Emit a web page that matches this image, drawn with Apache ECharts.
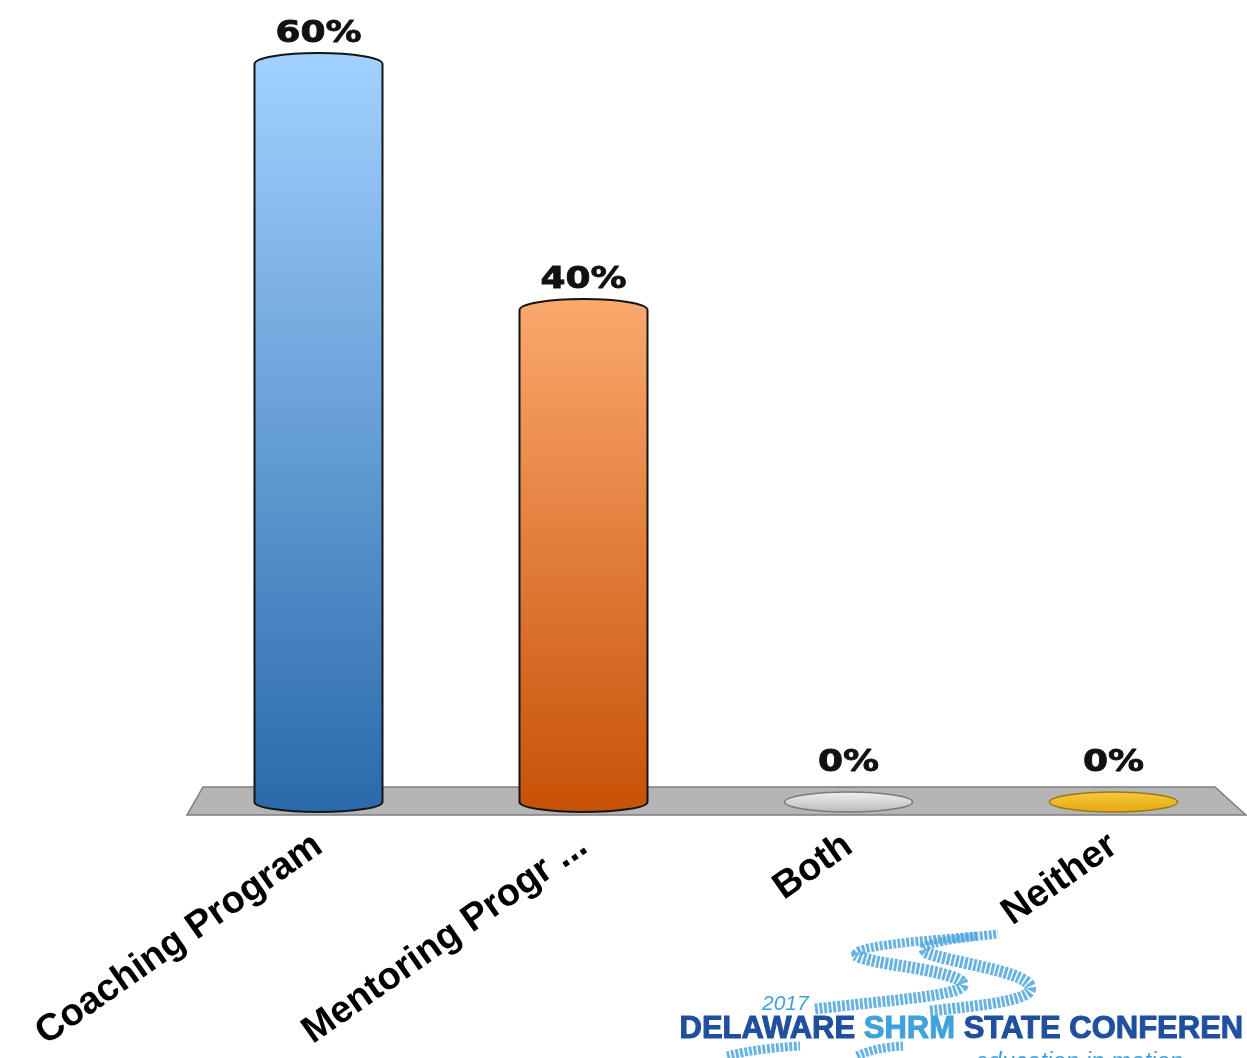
<!DOCTYPE html>
<html><head><meta charset="utf-8">
<script src="https://cdn.jsdelivr.net/npm/echarts@6/dist/echarts.min.js"></script>
<style>html,body{margin:0;padding:0;background:#fff;overflow:hidden}#c{width:1247px;height:1058px}</style>
</head><body><div id="c"></div>
<script>
// ---- data ----
const categories = ['Coaching Program', 'Mentoring Progr ...', 'Both', 'Neither'];
const values = [60, 40, 0, 0];
const valueLabels = ['60%', '40%', '0%', '0%'];

// ---- styles ----
const topColors = ['#a2d2ff', '#fba86e', '#f2f2f2', '#f6c93c'];
const bottomColors = ['#2a69ab', '#c75106', '#b8b8b8', '#e6a812'];
const edgeColors = ['#151515', '#151515', '#7a7a7a', '#9a7a10'];

const chart = echarts.init(document.getElementById('c'));

function ellipsePath(cx, cy, rx, ry) {
  return `M${cx - rx} ${cy} A${rx} ${ry} 0 1 0 ${cx + rx} ${cy} A${rx} ${ry} 0 1 0 ${cx - rx} ${cy} Z`;
}

function renderBar(params, api) {
  const i = api.value(0);
  const v = api.value(1);
  const base = api.coord([i, 0]);
  const top = api.coord([i, v]);
  const w = api.size([1, 0])[0] * 0.483;
  const cx = base[0], x0 = cx - w / 2, x1 = cx + w / 2, rx = w / 2;
  const ryB = 10, ryT = 11;
  const grad = {
    type: 'linear', x: 0, y: 0, x2: 0, y2: 1,
    colorStops: [{ offset: 0, color: topColors[i] }, { offset: 1, color: bottomColors[i] }]
  };
  const children = [];
  let labelY;
  if (v > 0) {
    const d = `M${x0} ${top[1]} L${x0} ${base[1]} A${rx} ${ryB} 0 0 0 ${x1} ${base[1]} L${x1} ${top[1]} A${rx} ${ryT} 0 0 0 ${x0} ${top[1]} Z`;
    children.push({ type: 'path', shape: { pathData: d }, style: { fill: grad, stroke: edgeColors[i], lineWidth: 2 } });
    labelY = top[1] - ryT - 4;
  } else {
    children.push({ type: 'path', shape: { pathData: ellipsePath(cx, base[1], rx, ryB) }, style: { fill: grad, stroke: edgeColors[i], lineWidth: 1.5 } });
    labelY = base[1] - ryB - 14;
  }
  children.push({
    type: 'text', x: cx, y: labelY, scaleX: 1.2,
    style: { text: valueLabels[i], x: 0, y: 0, align: 'center', verticalAlign: 'bottom',
      font: 'bold 30px "DejaVu Sans"', fill: '#111', stroke: '#111', lineWidth: 0.8 }
  });
  return { type: 'group', children };
}

function renderFloor(params, api) {
  const cs = params.coordSys;
  const y0 = api.coord([0, 0])[1];
  const L = cs.x, R = cs.x + cs.width;
  return {
    type: 'polygon',
    shape: { points: [[L + 17, y0 - 15], [R - 31, y0 - 15], [R, y0 + 13], [L + 1, y0 + 13]] },
    style: { fill: '#b5b5b5', stroke: '#7d7d7d', lineWidth: 1.5 }
  };
}

const logoBlue = '#1f4f9e';
const logoLight = '#3fa2dd';
function road(p, w) {
  return { type: 'bezierCurve',
    shape: { x1: p[0], y1: p[1], cpx1: p[2], cpy1: p[3], cpx2: p[4], cpy2: p[5], x2: p[6], y2: p[7] },
    style: { fill: null, stroke: '#4fa6de', lineWidth: w, lineDash: [3, 1.5], opacity: 0.85 } };
}

chart.setOption({
  animation: false,
  backgroundColor: '#ffffff',
  grid: { left: 186, right: 1, top: 64, bottom: 256 },
  xAxis: {
    type: 'category', data: categories, boundaryGap: true,
    axisLine: { show: false }, axisTick: { show: false },
    axisLabel: { interval: 0, rotate: 35, margin: 40, color: '#000',
      fontFamily: 'Liberation Sans', fontWeight: 'bold', fontSize: 38 }
  },
  yAxis: { type: 'value', min: 0, max: 60, show: false, splitLine: { show: false } },
  series: [
    { type: 'custom', z: 1, data: [[0, 0]], renderItem: renderFloor, silent: true },
    { type: 'custom', z: 2, data: values.map((v, i) => [i, v]), encode: { x: 0, y: 1 }, renderItem: renderBar }
  ],
  graphic: [
    road([815, 1009, 890, 1000, 975, 995, 962, 982], 11),
    road([962, 982, 945, 968, 870, 965, 856, 955], 12),
    road([856, 955, 850, 946, 930, 940, 978, 936], 9),
    road([930, 1011, 985, 1005, 1037, 1000, 1030, 986], 11),
    road([1030, 986, 1022, 970, 950, 963, 925, 952], 12),
    road([925, 952, 912, 944, 960, 938, 998, 934], 9),
    road([727, 1056, 750, 1050, 780, 1047, 800, 1046], 9),
    road([857, 1056, 870, 1050, 885, 1047, 903, 1046], 9),
    { type: 'text', left: 762, top: 994, style: { text: '2017', font: 'italic 21px "Liberation Sans"', fill: logoLight } },
    { type: 'text', left: 679, top: 1013, style: {
      text: '{a|DELAWARE }{b|SHRM}{a| STATE CONFEREN}',
      rich: {
        a: { font: 'bold 31px "Liberation Sans"', fill: logoBlue, stroke: logoBlue, lineWidth: 1 },
        b: { font: 'bold 31px "Liberation Sans"', fill: logoLight, stroke: logoLight, lineWidth: 1 }
      } } },
    { type: 'text', left: 975, top: 1050, style: { text: 'education in motion', font: 'italic 24px "Liberation Sans"', fill: logoLight } }
  ]
});
</script>
</body></html>
